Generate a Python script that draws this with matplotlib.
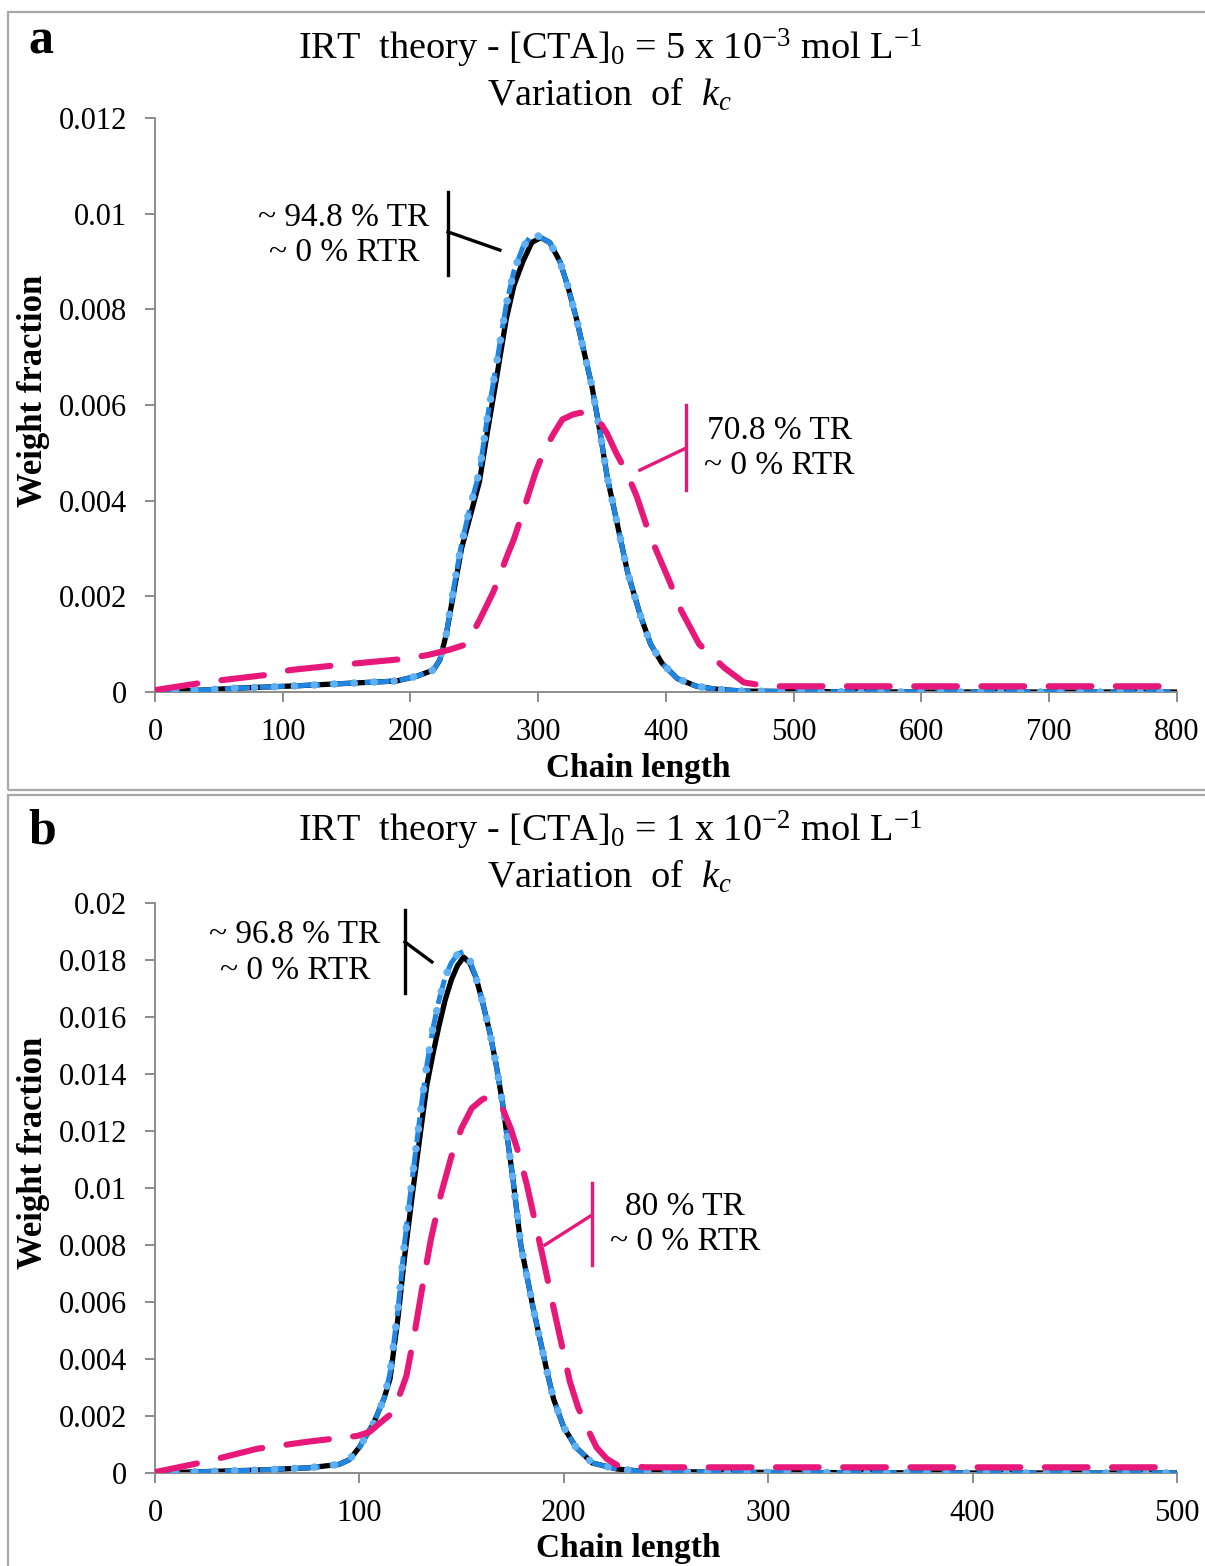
import matplotlib
matplotlib.use('Agg')
import matplotlib.pyplot as plt
from matplotlib.patches import Rectangle

plt.rcParams['font.family'] = ['Liberation Serif', 'DejaVu Serif']
plt.rcParams['mathtext.fontset'] = 'custom'
plt.rcParams['mathtext.rm'] = 'Liberation Serif'
plt.rcParams['mathtext.it'] = 'Liberation Serif:italic'

# ---- panel a : [CTA]0 = 5e-3 mol/L ----
a_x_black = [0, 36, 64, 111, 142, 189, 205, 218, 223, 228, 234, 240, 247, 254, 260, 267, 275,
             281, 288, 295, 302, 309, 317, 323, 330, 336, 342, 348, 354, 362, 370, 380, 388,
             397, 409, 424, 439, 460, 500, 600, 700, 800]
a_y_black = [0, 0.00004, 0.00008, 0.00013, 0.00017, 0.00023, 0.00033, 0.00046, 0.00067, 0.0012,
             0.0021, 0.0030, 0.0037, 0.0044, 0.0054, 0.0065, 0.0078, 0.0085, 0.0090, 0.0094,
             0.0095, 0.0094, 0.0090, 0.0085, 0.0078, 0.0071, 0.0064, 0.0055, 0.0045, 0.0035,
             0.0025, 0.0016, 0.0010, 0.0006, 0.00028, 0.00012, 0.00006, 0.00002, 0.00001, 0, 0, 0]
a_x_blue = [0, 36, 64, 111, 142, 189, 205, 218, 223, 228, 234, 240, 247, 254, 260, 267, 275,
            281, 288, 296, 302, 309, 317, 323, 330, 336, 342, 348, 354, 362, 370, 380, 388,
            397, 409, 424, 439, 460, 500, 600, 700, 800]
a_y_blue = [0, 0.00004, 0.00008, 0.00013, 0.00017, 0.00023, 0.00033, 0.00046, 0.00067, 0.0012,
            0.0022, 0.0031, 0.0039, 0.0046, 0.0057, 0.0068, 0.0081, 0.0088, 0.0093, 0.0096,
            0.0095, 0.0094, 0.0090, 0.0085, 0.0078, 0.0071, 0.0064, 0.0055, 0.0045, 0.0035,
            0.0025, 0.0016, 0.0010, 0.0006, 0.00028, 0.00012, 0.00006, 0.00002, 0.00001, 0, 0, 0]
a_x_dash = [0, 36, 53, 88, 106, 142, 158, 194, 213, 230, 244, 254, 265, 275, 281, 286, 292, 298,
            304, 312, 319, 327, 333, 339, 347, 354, 361, 369, 377, 387, 395, 403, 412, 420,
            426, 436, 446, 461, 480, 600, 700, 800]
a_y_dash = [0.00004, 0.00019, 0.00025, 0.00036, 0.00046, 0.00056, 0.0006, 0.00069, 0.00077,
            0.00088, 0.0010, 0.0015, 0.0021, 0.0028, 0.0032, 0.0036, 0.0041, 0.0046, 0.0050,
            0.0054, 0.0057, 0.0058, 0.00584, 0.0058, 0.0057, 0.0054, 0.0050, 0.0046, 0.0041,
            0.0033, 0.0028, 0.0023, 0.0017, 0.0013, 0.0010, 0.00075, 0.0005, 0.0002, 0.00012,
            0.00012, 0.00012, 0.00012]

# ---- panel b : [CTA]0 = 1e-2 mol/L ----
b_x_black = [0, 25, 50, 75, 90, 95, 100, 107, 112, 115, 119, 122, 126, 130, 133, 136, 139, 142,
             145, 148, 151, 154, 157, 160, 164, 167, 170, 175, 179, 185, 192, 195, 200, 206,
             214, 226, 240, 300, 400, 500]
b_y_black = [0, 0.00005, 0.0001, 0.00018, 0.0003, 0.00046, 0.0009, 0.00175, 0.0026, 0.0033,
             0.0055, 0.0075, 0.0098, 0.0120, 0.0136, 0.0147, 0.0157, 0.0166, 0.0173, 0.0178,
             0.0181, 0.0179, 0.0174, 0.0166, 0.0154, 0.0143, 0.0130, 0.0104, 0.0080, 0.0058,
             0.0035, 0.0026, 0.0016, 0.0009, 0.00035, 0.00014, 0.00005, 0.00002, 0, 0]
b_x_blue = [0, 25, 50, 75, 90, 95, 100, 107, 112, 115, 119, 122, 126, 130, 133, 136, 139, 142,
            145, 148, 151, 154, 157, 160, 164, 167, 170, 175, 179, 185, 192, 195, 200, 206,
            214, 226, 240, 300, 400, 500]
b_y_blue = [0, 0.00005, 0.0001, 0.00018, 0.0003, 0.00046, 0.0009, 0.00175, 0.0026, 0.0035,
            0.0058, 0.0080, 0.0104, 0.0127, 0.0143, 0.0156, 0.0166, 0.0174, 0.0179, 0.0182,
            0.0183, 0.0180, 0.0174, 0.0166, 0.0154, 0.0143, 0.0130, 0.0104, 0.0080, 0.0058,
            0.0035, 0.0026, 0.0016, 0.0009, 0.00035, 0.00014, 0.00005, 0.00002, 0, 0]
b_x_dash = [0, 25, 50, 75, 99, 105, 110, 116, 119, 123, 127, 131, 135, 140, 145, 150, 155, 160,
            163, 166, 170, 174, 178, 182, 186, 190, 195, 199, 203, 207, 211, 216, 221, 226,
            240, 300, 400, 500]
b_y_dash = [0.00003, 0.0004, 0.00085, 0.0011, 0.0013, 0.00144, 0.00175, 0.0021, 0.0026, 0.0034,
            0.0049, 0.0066, 0.0082, 0.0098, 0.0111, 0.0121, 0.0128, 0.0131, 0.0132, 0.0131,
            0.0128, 0.0121, 0.0112, 0.0101, 0.0088, 0.0075, 0.0058, 0.0045, 0.0032, 0.0023,
            0.00165, 0.0009, 0.0005, 0.00028, 0.0002, 0.0002, 0.0002, 0.0002]

GRAY = '#8C8C8C'
MAGENTA = '#E8177A'
BLUE = '#1E86E0'
LIGHTBLUE = '#5FB0F5'
PINK = '#F4A3C0'


def draw_panel(ax, xb, yb, xbl, ybl, xd, yd, xmax, ymax, ystep, xstep, xlab_x, xlab_y, ylab_y):
    ax.plot(xb, yb, color=PINK, lw=3.0, zorder=1)
    ax.plot(xb, yb, color='black', lw=3.8, zorder=2)
    ax.plot(xbl, ybl, color=BLUE, lw=3.6, dashes=(5, 2.0), zorder=3)
    ax.plot(xbl, ybl, color=LIGHTBLUE, lw=5.5, dashes=(0.01, 2.6),
            dash_capstyle='round', zorder=3)
    ax.plot(xd, yd, color=MAGENTA, lw=4.4, dashes=(7, 4), dash_capstyle='round', zorder=4)
    ax.set_xlim(0, xmax)
    ax.set_ylim(0, ymax)
    ax.set_xticks(range(0, xmax + 1, xstep))
    yt = [i * ystep for i in range(int(round(ymax / ystep)) + 1)]
    ax.set_yticks(yt)
    ax.set_yticklabels(['0' if v == 0 else ('%g' % v) for v in yt])
    for s in ['top', 'right']:
        ax.spines[s].set_visible(False)
    for s in ['left', 'bottom']:
        ax.spines[s].set_color(GRAY)
        ax.spines[s].set_linewidth(1.4)
    ax.tick_params(direction='out', length=7, width=1.4, color=GRAY, labelsize=22)
    ax.tick_params(axis='y', pad=13)
    ax.tick_params(axis='x', pad=12)
    ax.set_xlabel('Chain length', fontsize=24, fontweight='bold')
    ax.set_ylabel('Weight fraction', fontsize=25, fontweight='bold')
    ax.xaxis.set_label_coords(xlab_x, xlab_y)
    ax.yaxis.set_label_coords(-0.103, ylab_y)


def bracket(ax, xv, y0, y1, yb, xe, ye, color):
    ax.plot([xv, xv], [y0, y1], color=color, lw=2.4, clip_on=False, zorder=5)
    ax.plot([xv, xe], [yb, ye], color=color, lw=2.4, clip_on=False, zorder=5)


fig = plt.figure(figsize=(12.05, 15.66), dpi=100)

# panel frames
fig.add_artist(Rectangle((8 / 1205, 1 - 790 / 1566), 1.2, (790 - 12) / 1566,
                         transform=fig.transFigure, fill=False, ec='#A8A8A8', lw=1.6))
fig.add_artist(Rectangle((8 / 1205, -0.2), 1.2, 0.2 + 1 - 795 / 1566,
                         transform=fig.transFigure, fill=False, ec='#A8A8A8', lw=1.6))

ax1 = fig.add_axes([0.1286, 0.5581, 0.8481, 0.3665])
draw_panel(ax1, a_x_black, a_y_black, a_x_blue, a_y_blue, a_x_dash, a_y_dash,
           800, 0.012, 0.002, 100, 0.4726, -0.106, (692 - 391) / 574)
bracket(ax1, 229.4, 0.01045, 0.00872, 0.00962, 270, 0.00924, 'black')
ax1.text(148, 0.00955, '~ 94.8 % TR\n~ 0 % RTR', ha='center', va='center',
         fontsize=24, linespacing=1.2)
bracket(ax1, 415.7, 0.0060, 0.00422, 0.0051, 379.6, 0.00464, MAGENTA)
ax1.text(489, 0.0051, '70.8 % TR\n~ 0 % RTR', ha='center', va='center',
         fontsize=24, linespacing=1.2)

ax2 = fig.add_axes([0.1286, 0.0594, 0.8481, 0.3640])
draw_panel(ax2, b_x_black, b_y_black, b_x_blue, b_y_blue, b_x_dash, b_y_dash,
           500, 0.02, 0.002, 100, 0.4628, -0.105, (1473 - 1153) / 570)
bracket(ax2, 122.3, 0.01975, 0.01684, 0.01863, 135.5, 0.01793, 'black')
ax2.text(68.5, 0.01825, '~ 96.8 % TR\n~ 0 % RTR', ha='center', va='center',
         fontsize=24, linespacing=1.2)
bracket(ax2, 213.8, 0.01018, 0.0073, 0.00905, 190.8, 0.0080, MAGENTA)
ax2.text(259.3, 0.00874, '80 % TR\n~ 0 % RTR', ha='center', va='center',
         fontsize=24, linespacing=1.2)

# titles and panel letters
fig.text(610 / 1205, 1 - 48 / 1566,
         r'IRT  theory - [CTA]$_0$ = 5 x 10$^{-3}$ mol L$^{-1}$',
         ha='center', va='center', fontsize=27.5)
fig.text(610 / 1205, 1 - 95 / 1566, r'Variation  of  $k_c$',
         ha='center', va='center', fontsize=27.5)
fig.text(610 / 1205, 1 - 830 / 1566,
         r'IRT  theory - [CTA]$_0$ = 1 x 10$^{-2}$ mol L$^{-1}$',
         ha='center', va='center', fontsize=27.5)
fig.text(610 / 1205, 1 - 877 / 1566, r'Variation  of  $k_c$',
         ha='center', va='center', fontsize=27.5)
fig.text(28 / 1205, 1 - 42 / 1566, 'a', fontsize=36, fontweight='bold', va='center')
fig.text(28 / 1205, 1 - 832 / 1566, 'b', fontsize=36, fontweight='bold', va='center')

fig.savefig('out.png', dpi=100)
plt.close(fig)
